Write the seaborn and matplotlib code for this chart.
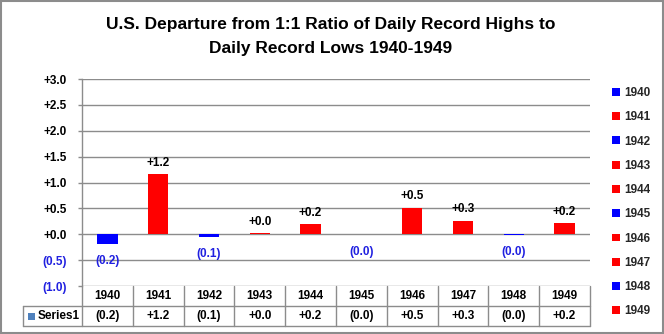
import numpy as np
import pandas as pd
import matplotlib
matplotlib.use("Agg")
import matplotlib.pyplot as plt
import matplotlib.transforms as mtransforms
from matplotlib.lines import Line2D
from matplotlib.patches import Rectangle, Patch
import seaborn as sns

years = ['1940', '1941', '1942', '1943', '1944', '1945', '1946', '1947', '1948', '1949']
values = [-0.19, 1.16, -0.06, 0.02, 0.19, -0.003, 0.51, 0.26, -0.02, 0.21]
yticks = [-1.0, -0.5, 0.0, 0.5, 1.0, 1.5, 2.0, 2.5, 3.0]
title = "U.S. Departure from 1:1 Ratio of Daily Record Highs to\nDaily Record Lows 1940-1949"
series_name = "Series1"

RED = "#FF0000"
BLUE = "#0000FF"
LBLUE = "#2020E0"
GRID = "#8C8C8C"

def fmt(v):
    return f"+{v:.1f}" if v >= 0 else f"({abs(v):.1f})"

sns.set_theme(style="white")
plt.rcParams['font.family'] = ['Liberation Sans', 'DejaVu Sans']

W, H = 664, 334
fig = plt.figure(figsize=(W / 100, H / 100), dpi=100)

def fx(x):
    return x / W

def fy(y):
    return 1 - y / H

L, R, T, B = 82, 590, 79, 286
ax = fig.add_axes([fx(L), fy(B), fx(R - L), (B - T) / H])

df = pd.DataFrame({"year": years, "value": values})
palette = {y: (RED if v >= 0 else BLUE) for y, v in zip(years, values)}
sns.barplot(data=df, x="year", y="value", hue="year", palette=palette,
            width=0.4, legend=False, ax=ax, saturation=1, zorder=3,
            edgecolor="none", linewidth=0)

FS = 8.5
ax.set_ylim(-1.0, 3.0)
ax.set_xlim(-0.5, len(years) - 0.5)
ax.set_yticks(yticks)
ax.set_yticklabels([fmt(t) for t in yticks], fontsize=FS)
for lab, t in zip(ax.get_yticklabels(), yticks):
    lab.set_color(LBLUE if t < 0 else "black")
    lab.set_fontweight("bold")
ax.tick_params(axis="y", length=3, width=1, color=GRID, left=True, pad=8)
ax.set_xticks([])
ax.set_xlabel("")
ax.set_ylabel("")
ax.grid(axis="y", color=GRID, linewidth=1, zorder=0)
for s in ["top", "right", "bottom"]:
    ax.spines[s].set_visible(False)
ax.spines["left"].set_color(GRID)
ax.spines["left"].set_linewidth(1)

for i, v in enumerate(values):
    if v >= 0:
        ax.annotate(fmt(v), (i, v), xytext=(0, 4), textcoords="offset points",
                    ha="center", va="bottom", fontsize=FS, fontweight="bold", color="black")
    else:
        ax.annotate(fmt(v), (i, v), xytext=(0, -8), textcoords="offset points",
                    ha="center", va="top", fontsize=FS, fontweight="bold", color=LBLUE)

bt = mtransforms.blended_transform_factory(ax.transData, fig.transFigure)
r1, r2, r3 = 286, 306, 326
n = len(years)
for k in range(n + 1):
    xk = k - 0.5
    fig.add_artist(Line2D([xk, xk], [fy(r1), fy(r3)], transform=bt, color=GRID, lw=1))
fig.add_artist(Line2D([fx(23), fx(23)], [fy(r2), fy(r3)], transform=fig.transFigure, color=GRID, lw=1))
fig.add_artist(Line2D([fx(23), fx(R)], [fy(r2), fy(r2)], transform=fig.transFigure, color=GRID, lw=1))
fig.add_artist(Line2D([fx(23), fx(R)], [fy(r3), fy(r3)], transform=fig.transFigure, color=GRID, lw=1))
for i, (yr, v) in enumerate(zip(years, values)):
    fig.text(i, fy((r1 + r2) / 2), yr, transform=bt, ha="center", va="center",
             fontsize=FS, fontweight="bold", color="black")
    fig.text(i, fy((r2 + r3) / 2), fmt(v), transform=bt, ha="center", va="center",
             fontsize=FS, fontweight="bold", color="black")
fig.add_artist(Rectangle((fx(28), fy(320)), fx(7), 7 / H, transform=fig.transFigure,
                         facecolor="#4F81BD", edgecolor="none"))
fig.text(fx(38), fy((r2 + r3) / 2), series_name, ha="left", va="center",
         fontsize=FS, fontweight="bold", color="black")

handles = [Patch(facecolor=palette[y], edgecolor="none") for y in years]
fig.legend(handles, years, loc="upper left", bbox_to_anchor=(fx(612), fy(87)),
           frameon=False, prop={"weight": "bold", "size": FS},
           handlelength=0.65, handleheight=0.65,
           handletextpad=0.35, labelspacing=1.04, borderaxespad=0, borderpad=0)

fig.text(fx(331), fy(17), title, ha="center", va="top", fontsize=12.5,
         fontweight="bold", color="black", linespacing=1.75)

fig.add_artist(Rectangle((fx(0.5), fy(332.5)), fx(662), 332 / H, transform=fig.transFigure,
                         facecolor="none", edgecolor="#8C8C8C", lw=1.5))

fig.savefig("out.png", dpi=100)
